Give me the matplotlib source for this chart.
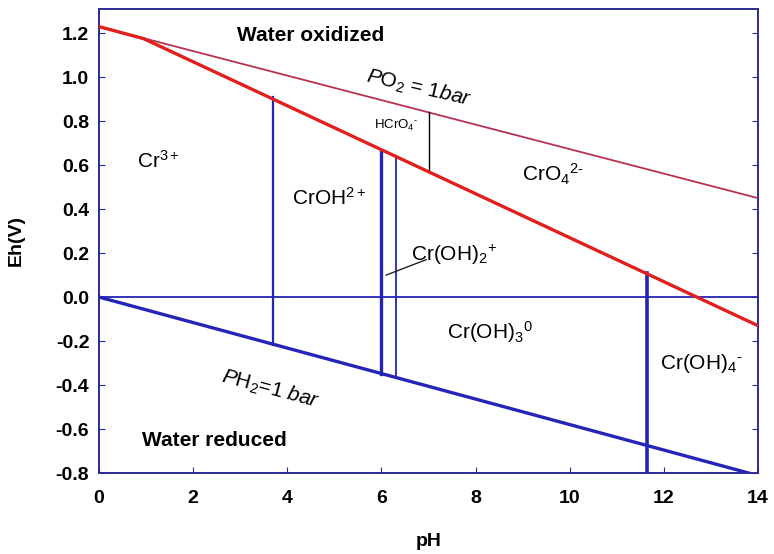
import matplotlib
matplotlib.use("Agg")
import matplotlib.pyplot as plt

plt.rcParams['font.family'] = ['Liberation Sans', 'DejaVu Sans']
plt.rcParams['mathtext.fontset'] = 'custom'
plt.rcParams['mathtext.rm'] = 'Liberation Sans'
plt.rcParams['mathtext.it'] = 'Liberation Sans:italic'
plt.rcParams['mathtext.bf'] = 'Liberation Sans:bold'

# --- data ---
o2_ph = [0.0, 14.0]
o2_eh = [1.23, 0.45]
h2_ph = [0.0, 13.8]
h2_eh = [0.0, -0.80]
red_ph = [0.0, 0.95, 14.0]
red_eh = [1.23, 1.175, -0.13]
zero_ph = [0.0, 14.0]
zero_eh = [0.0, 0.0]
vert_ph = [3.7, 6.0, 6.3, 11.65]
vert_lo = [-0.22, -0.35, -0.37, -0.80]
vert_hi = [0.91, 0.665, 0.635, 0.11]
vert_lw = [1.6, 2.4, 1.3, 2.6]
hcro4_ph = [7.0, 7.0]
hcro4_eh = [0.57, 0.84]
leader_ph = [6.1, 6.95]
leader_eh = [0.10, 0.17]

xticks = [0, 2, 4, 6, 8, 10, 12, 14]
yticks = [-0.8, -0.6, -0.4, -0.2, 0.0, 0.2, 0.4, 0.6, 0.8, 1.0, 1.2]

spine_col = '#2b2b95'
blue = '#2424b8'
red = '#e0201e'
maroon = '#b83050'
HY = '\u2010'

fig = plt.figure(figsize=(7.74, 5.54), dpi=100)
ax = fig.add_axes([99/774, 1 - 473/554, (758-99)/774, (473-9)/554])
ax.set_xlim(0, 14)
ax.set_ylim(-0.8, 1.31)

ax.plot(o2_ph, o2_eh, color=maroon, lw=1.3, zorder=3)
ax.plot(red_ph, red_eh, color=red, lw=2.4, zorder=4)
ax.plot(h2_ph, h2_eh, color=blue, lw=2.4, zorder=3)
ax.plot(zero_ph, zero_eh, color=blue, lw=1.3, zorder=2)
for p, lo, hi, lw in zip(vert_ph, vert_lo, vert_hi, vert_lw):
    ax.plot([p, p], [lo, hi], color=blue, lw=lw, zorder=3)
ax.plot(hcro4_ph, hcro4_eh, color='black', lw=1.0, zorder=3)
ax.plot(leader_ph, leader_eh, color='#222222', lw=1.0, zorder=3)

ax.set_xticks(xticks)
ax.set_yticks(yticks)
tfs = 14
ax.set_xticklabels([str(t) for t in xticks], fontweight='bold', fontsize=tfs)
ax.set_yticklabels([f"{t:.1f}" for t in yticks], fontweight='bold', fontsize=tfs)
ax.tick_params(direction='in', length=4, color=spine_col, right=True, top=False)
ax.tick_params(axis='x', pad=12)
ax.tick_params(axis='y', pad=7)
for s in ax.spines.values():
    s.set_color(spine_col)
    s.set_linewidth(1.4)

ax.set_xlabel('pH', fontweight='bold', fontsize=tfs)
ax.set_ylabel('Eh(V)', fontweight='bold', fontsize=tfs)
ax.xaxis.set_label_coords(0.5, -0.129)
ax.yaxis.set_label_coords(-0.113, 0.5)

fs = 15
ax.text(4.5, 1.19, 'Water oxidized', fontweight='bold', fontsize=fs, ha='center', va='center')
ax.text(2.45, -0.65, 'Water reduced', fontweight='bold', fontsize=fs, ha='center', va='center')
ax.text(6.8, 0.95, r'$\it{P}$O$_2$ = 1$\it{bar}$', fontsize=fs, ha='center', va='center', rotation=-13)
ax.text(3.65, -0.42, r'$\it{P}$H$_2$=1 $\it{bar}$', fontsize=fs, ha='center', va='center', rotation=-15)
ax.text(1.26, 0.62, r'Cr$^{3+}$', fontsize=fs, ha='center', va='center')
ax.text(4.88, 0.45, r'CrOH$^{2+}$', fontsize=fs, ha='center', va='center')
ax.text(6.32, 0.78, 'HCrO$_4$$^{' + HY + '}$', fontsize=9.5, ha='center', va='center')
ax.text(9.65, 0.56, 'CrO$_4$$^{2' + HY + '}$', fontsize=fs, ha='center', va='center')
ax.text(7.55, 0.19, r'Cr(OH)$_2$$^{+}$', fontsize=fs, ha='center', va='center')
ax.text(8.3, -0.16, r'Cr(OH)$_3$$^{0}$', fontsize=fs, ha='center', va='center')
ax.text(12.8, -0.30, 'Cr(OH)$_4$$^{' + HY + '}$', fontsize=fs, ha='center', va='center')

fig.savefig('out.png', dpi=100)
